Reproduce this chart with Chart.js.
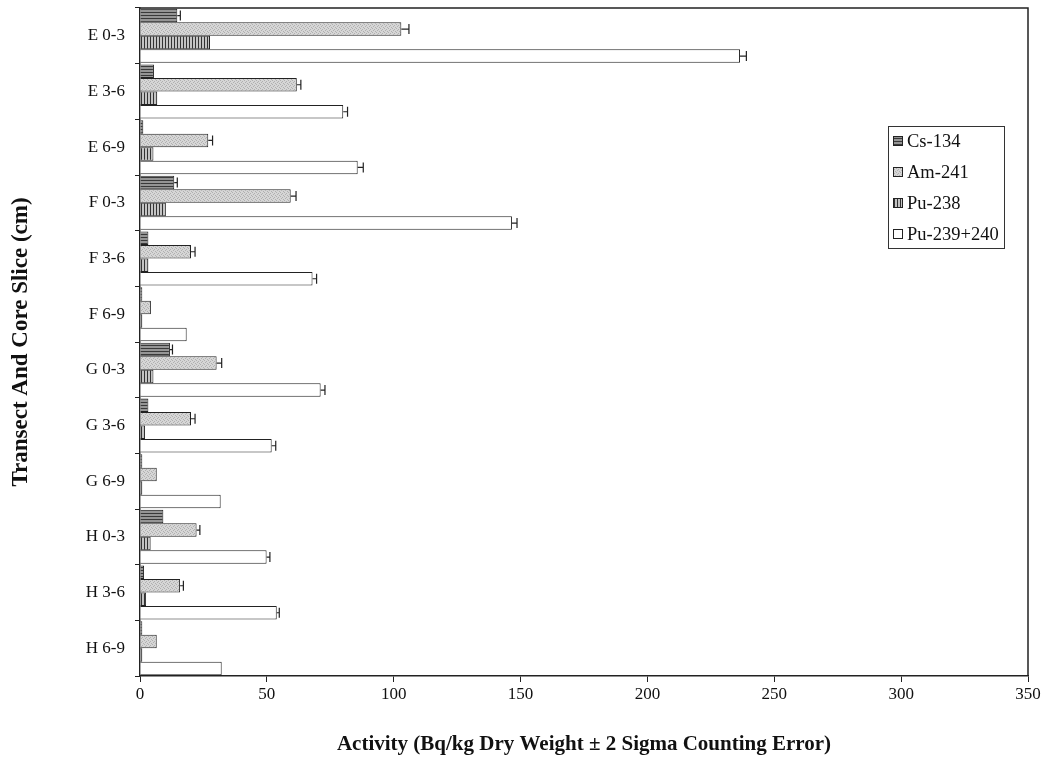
<!DOCTYPE html>
<html>
<head>
<meta charset="utf-8">
<script src="https://cdn.jsdelivr.net/npm/chart.js@4"></script>
<style>
  html, body { margin: 0; padding: 0; background: #fff; }
  #wrap { width: 1054px; height: 769px; position: relative; }
</style>
</head>
<body>
<div id="wrap"><canvas id="activityChart" width="1054" height="769"></canvas></div>
<script>
// Data
const categories = ["E 0-3", "E 3-6", "E 6-9", "F 0-3", "F 3-6", "F 6-9",
                    "G 0-3", "G 3-6", "G 6-9", "H 0-3", "H 3-6", "H 6-9"];
const seriesNames = ["Cs-134", "Am-241", "Pu-238", "Pu-239+240"];

const cs134     = [14.7, 5.5, 1.3, 13.5, 3.3, 0.9, 11.8, 3.3, 0.9, 9.2, 1.6, 0.9];
const cs134Err  = [1.2, 0, 0, 1.2, 0, 0, 1.0, 0, 0, 0, 0, 0];
const am241     = [103, 61.8, 26.9, 59.4, 20.1, 4.3, 30.2, 20.1, 6.6, 22.3, 15.8, 6.6];
const am241Err  = [3.0, 1.6, 1.7, 2.1, 1.6, 0, 2.0, 1.6, 0, 1.3, 1.3, 0];
const pu238     = [27.6, 6.8, 5.3, 10.2, 3.3, 0.9, 5.3, 2.0, 0.9, 4.2, 2.4, 0.9];
const pu238Err  = [0, 0, 0, 0, 0, 0, 0, 0, 0, 0, 0, 0];
const pu239     = [236.5, 80.1, 85.8, 146.6, 68.0, 18.4, 71.2, 51.9, 31.8, 49.9, 53.9, 32.2];
const pu239Err  = [2.5, 1.7, 2.2, 2.0, 1.6, 0, 1.7, 1.6, 0, 1.3, 1.0, 0];

const xTicks = [0, 50, 100, 150, 200, 250, 300, 350];

// Fill patterns (scanned greyscale hatching)
function makePattern(w, h, draw) {
    const c = document.createElement("canvas");
    c.width = w; c.height = h;
    const g = c.getContext("2d");
    draw(g);
    return g.createPattern(c, "repeat");
}

const patCs = makePattern(4, 3, g => {
    g.fillStyle = "#959595"; g.fillRect(0, 0, 4, 3);
    g.fillStyle = "#3a3a3a"; g.fillRect(0, 0, 4, 1);
});
const patAm = makePattern(4, 4, g => {
    g.fillStyle = "#d6d6d6"; g.fillRect(0, 0, 4, 4);
    g.fillStyle = "#b0b0b0";
    g.fillRect(0, 0, 1, 1); g.fillRect(2, 1, 1, 1); g.fillRect(1, 2, 1, 1); g.fillRect(3, 3, 1, 1);
});
const patPu238 = makePattern(3, 3, g => {
    g.fillStyle = "#c4c4c4"; g.fillRect(0, 0, 3, 3);
    g.fillStyle = "#333"; g.fillRect(0, 0, 1, 3);
});
const fills = [patCs, patAm, patPu238, "#ffffff"];
const values = [cs134, am241, pu238, pu239];
const errors = [cs134Err, am241Err, pu238Err, pu239Err];

const FONT = "'Liberation Serif', 'DejaVu Serif', serif";

// Error whiskers (+ side only, as in the reference)
const errorBars = {
    id: "errorBars",
    afterDatasetsDraw(chart) {
        const ctx = chart.ctx;
        const xs = chart.scales.x;
        ctx.save();
        ctx.strokeStyle = "#222";
        ctx.lineWidth = 1.2;
        chart.data.datasets.forEach((ds, di) => {
            const meta = chart.getDatasetMeta(di);
            meta.data.forEach((bar, i) => {
                const e = errors[di][i];
                if (!e) return;
                const x0 = xs.getPixelForValue(ds.data[i]);
                const x1 = xs.getPixelForValue(ds.data[i] + e);
                const y = bar.y;
                const half = Math.min(5, bar.height / 2 - 1);
                ctx.beginPath();
                ctx.moveTo(x0, y); ctx.lineTo(x1, y);
                ctx.moveTo(x1, y - half); ctx.lineTo(x1, y + half);
                ctx.stroke();
            });
        });
        ctx.restore();
    }
};

// Plot frame (top and right edges) and boxed legend inside plot
const frameAndLegend = {
    id: "frameAndLegend",
    afterDraw(chart) {
        const ctx = chart.ctx;
        const a = chart.chartArea;
        ctx.save();
        ctx.strokeStyle = "#222";
        ctx.lineWidth = 1.5;
        ctx.beginPath();
        ctx.moveTo(a.left, a.top); ctx.lineTo(a.right, a.top); ctx.lineTo(a.right, a.bottom);
        ctx.stroke();

        // legend box
        const lx = 888, ly = 126, lw = 116, lh = 122;
        ctx.lineWidth = 1;
        ctx.strokeStyle = "#333";
        ctx.strokeRect(lx + 0.5, ly + 0.5, lw, lh);
        ctx.font = "18.5px " + FONT;
        ctx.textBaseline = "middle";
        seriesNames.forEach((name, i) => {
            const cy = 141 + i * 31;
            ctx.fillStyle = fills[i];
            ctx.fillRect(893, cy - 5, 9, 9);
            ctx.strokeStyle = "#222";
            ctx.strokeRect(893.5, cy - 4.5, 9, 9);
            ctx.fillStyle = "#111";
            ctx.fillText(name, 907, cy + 1);
        });
        ctx.restore();
    }
};

const ctx = document.getElementById("activityChart").getContext("2d");
const chart = new Chart(ctx, {
    type: "bar",
    data: {
        labels: categories,
        datasets: seriesNames.map((name, i) => ({
            label: name,
            data: values[i],
            backgroundColor: fills[i],
            borderColor: "#222",
            borderWidth: 1,
            barPercentage: 1.0,
            categoryPercentage: 0.97
        }))
    },
    options: {
        indexAxis: "y",
        responsive: false,
        animation: false,
        layout: { padding: { top: 8, right: 26, left: 0, bottom: 0 } },
        plugins: {
            legend: { display: false },
            tooltip: { enabled: false }
        },
        scales: {
            x: {
                min: 0, max: 350,
                afterBuildTicks: s => { s.ticks = xTicks.map(v => ({ value: v })); },
                afterFit: s => { s.height = 93; },
                grid: { drawOnChartArea: false, tickLength: 6, color: "#222" },
                border: { color: "#222", width: 1.5 },
                ticks: { color: "#111", font: { family: FONT, size: 17 }, padding: 2 },
                title: {
                    display: true,
                    text: "Activity (Bq/kg Dry Weight \u00b1 2 Sigma Counting Error)",
                    color: "#111",
                    font: { family: FONT, size: 21, weight: "bold" },
                    padding: { top: 0, bottom: 12 }
                }
            },
            y: {
                afterFit: s => { s.width = 140; s.paddingTop = 0; s.paddingBottom = 0; },
                grid: { drawOnChartArea: false, tickLength: 5, color: "#222", offset: true },
                border: { color: "#222", width: 1.5 },
                ticks: { color: "#111", font: { family: FONT, size: 17 }, padding: 10 },
                title: {
                    display: true,
                    text: "Transect And Core Slice (cm)",
                    color: "#111",
                    font: { family: FONT, size: 23, weight: "bold" },
                    padding: { top: 7, bottom: 0 }
                }
            }
        }
    },
    plugins: [errorBars, frameAndLegend]
});
</script>
</body>
</html>
